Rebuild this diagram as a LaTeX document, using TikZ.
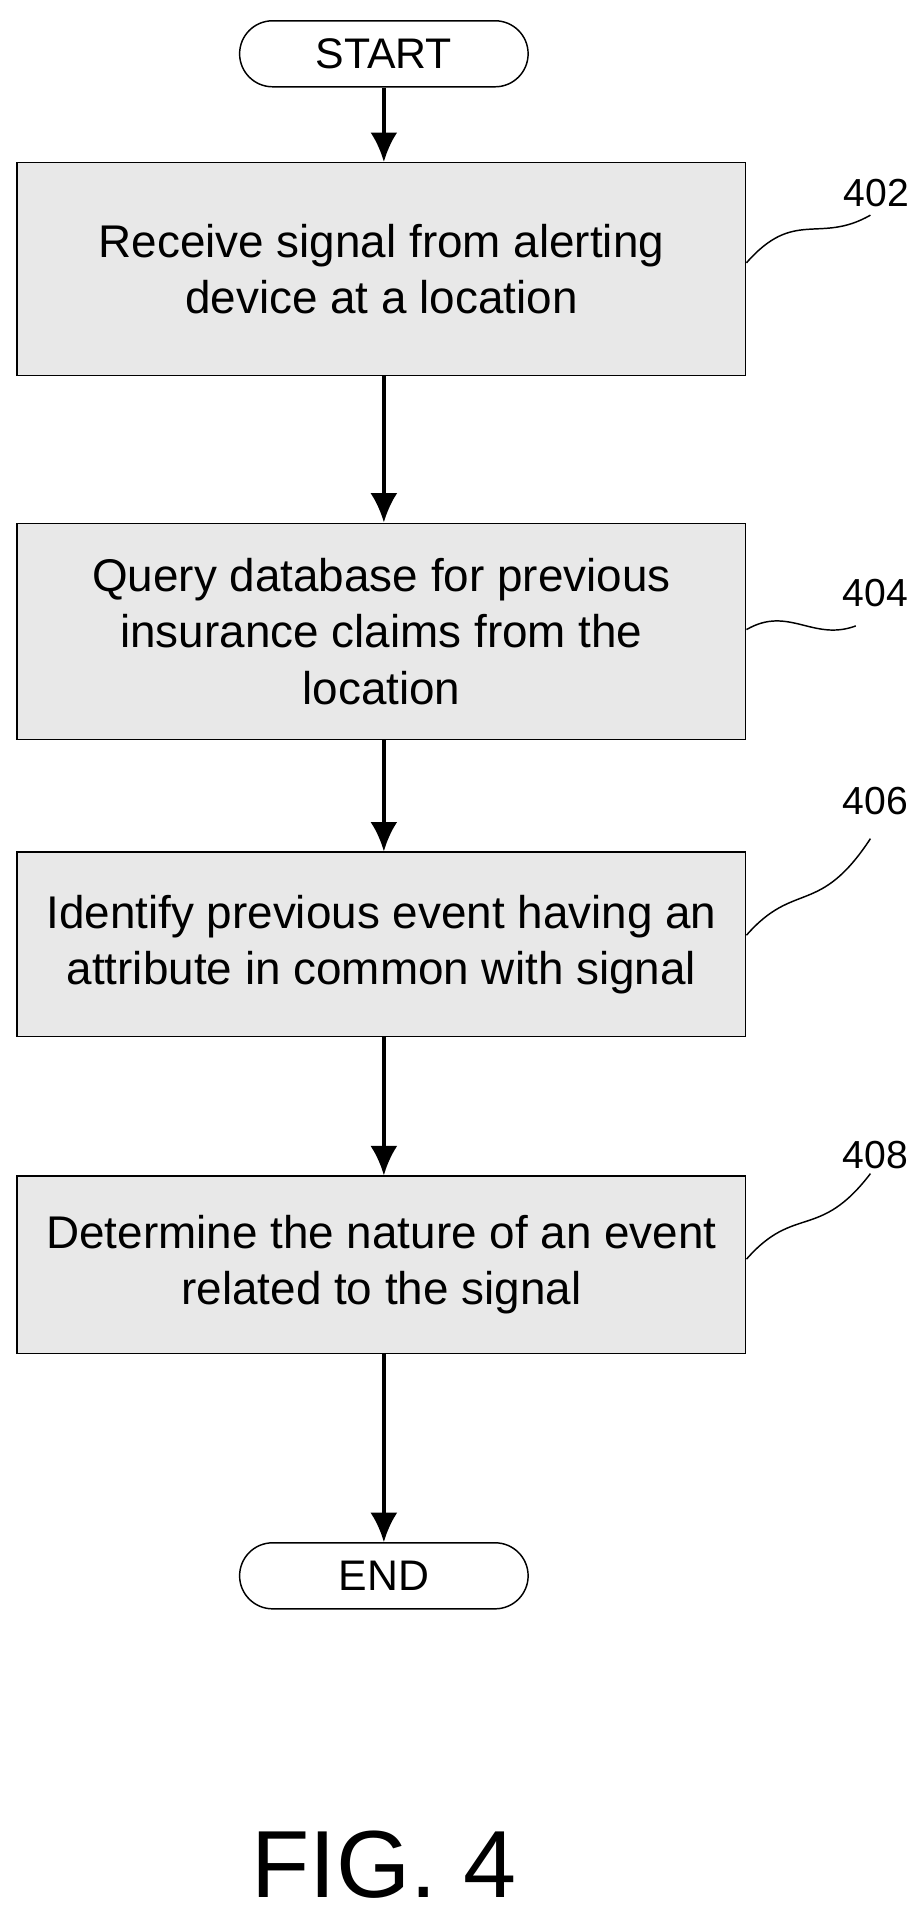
\documentclass[tikz,border=0pt]{standalone}
\usepackage{fontspec}
\setmainfont{Liberation Sans}
\usetikzlibrary{arrows.meta}
\tikzset{
  procbox/.style={draw,line width=1.2pt,fill=black!9,minimum width=596pt,align=center,font=\fontsize{37.5}{46}\selectfont},
  term/.style={draw,line width=1.2pt,rounded corners=27pt,minimum width=236pt,minimum height=54pt,font=\fontsize{35}{40}\selectfont},
  flow/.style={line width=2.8pt,-{Latex[length=24pt,width=22pt]}},
  tag/.style={font=\fontsize{32}{36}\selectfont},
  wave/.style={line width=1.2pt}
}
\begin{document}
\begin{tikzpicture}[x=1pt,y=1pt,yscale=-1,xscale=1]
		\useasboundingbox (0,0) rectangle (754,1573);
		\node[term] (start) at (314,44) {START};
		\node[procbox,minimum height=174pt] (s402) at (312,220) {Receive signal from alerting\\device at a location};
		\node[procbox,minimum height=177pt] (s404) at (312,516.5) {Query database for previous\\insurance claims from the\\location};
		\node[procbox,minimum height=151pt] (s406) at (312,772.5) {Identify previous event having an\\attribute in common with signal};
		\node[procbox,minimum height=145pt] (s408) at (312,1034.5) {Determine the nature of an event\\related to the signal};
		\node[term] (end) at (314,1289) {END};
		% connectors
		\draw[flow] (start.south) -- (s402.north -| start.south);
		\draw[flow] (s402.south -| start.south) -- (s404.north -| start.south);
		\draw[flow] (s404.south -| start.south) -- (s406.north -| start.south);
		\draw[flow] (s406.south -| start.south) -- (s408.north -| start.south);
		\draw[flow] (s408.south -| start.south) -- (end.north);
		% reference numerals
		\node[tag] (n402) at (717,158) {402};
		\node[tag] (n404) at (716,485) {404};
		\node[tag] (n406) at (716,655) {406};
		\node[tag] (n408) at (716,945) {408};
		\draw[wave] (s402.east |- 0,215) .. controls (650,170) and (670,200) .. (712,176);
		\draw[wave] (s404.east |- 0,515) .. controls (645,495) and (665,525) .. (700,512);
		\draw[wave] (s406.east |- 0,765) .. controls (650,720) and (670,750) .. (712,686);
		\draw[wave] (s408.east |- 0,1030) .. controls (650,985) and (670,1015) .. (712,960);
		\node[font=\fontsize{78}{90}\selectfont] (fig) at (314,1525) {FIG. 4};
\end{tikzpicture}
\end{document}
